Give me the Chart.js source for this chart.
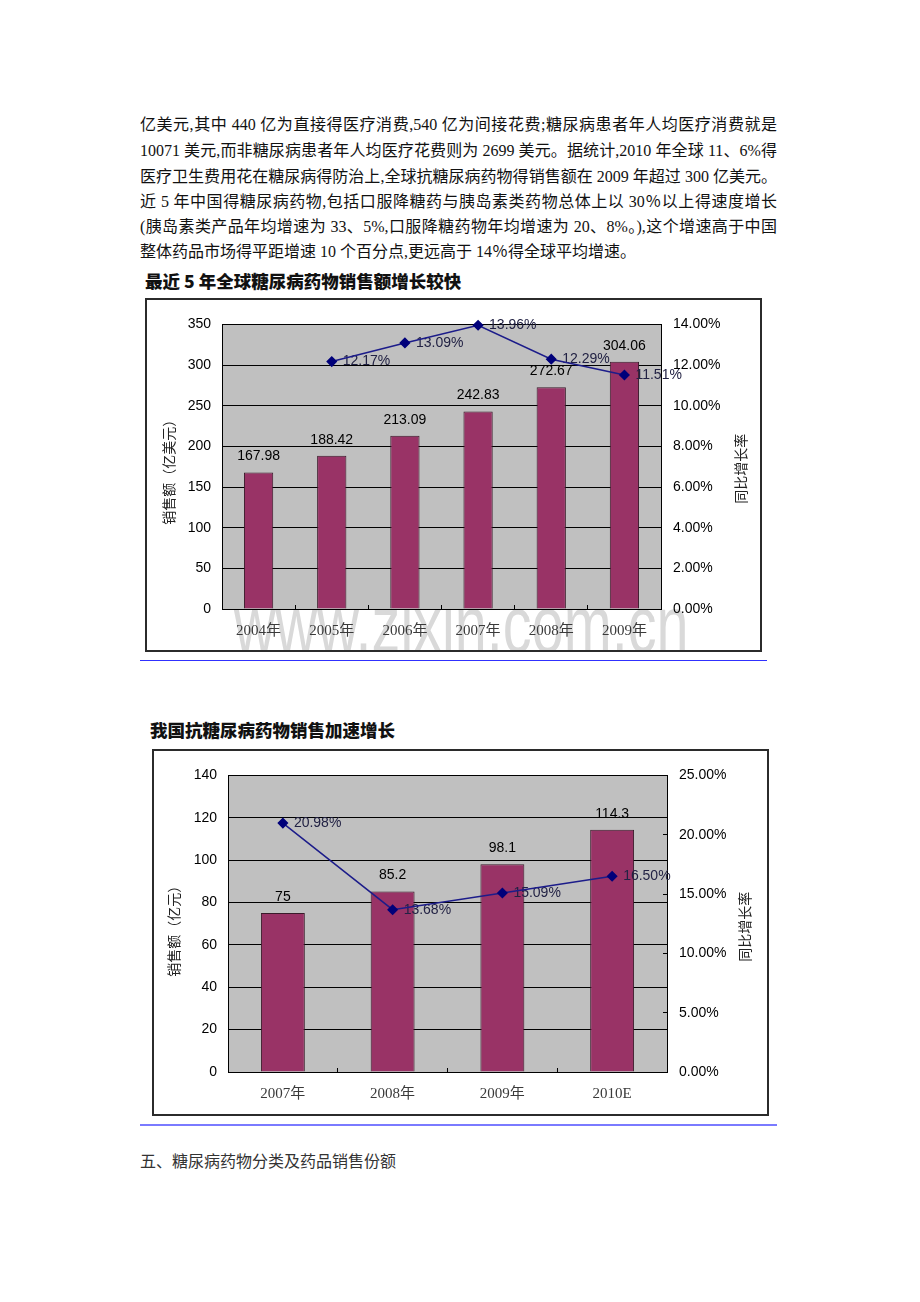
<!DOCTYPE html>
<html>
<head>
<meta charset="utf-8">
<script src="https://cdn.jsdelivr.net/npm/chart.js@4.4.1/dist/chart.umd.min.js"></script>
<style>
  body { margin: 0; background: #fff; }
  #page { position: relative; width: 920px; height: 1302px; overflow: hidden; font-family: "Liberation Serif", "Noto Sans CJK SC", serif; color: #111; }
  .line { position: absolute; left: 140px; width: 637px; font-size: 16px; line-height: 25px; white-space: nowrap; }
  .just { text-align: justify; text-align-last: justify; white-space: normal; }
  .ctitle { position: absolute; font-family: "Noto Sans CJK SC", sans-serif; font-weight: 900; font-size: 17.5px; color: #111; white-space: nowrap; }
  .box { position: absolute; box-sizing: border-box; border: 2px solid #2b2b2b; background: #fff; overflow: hidden; }
  .box canvas { position: absolute; left: 0; top: 0; }
  .rule { position: absolute; }
  .mark { position: absolute; font-family: "Liberation Sans", sans-serif; font-size: 80px; color: #d9d9d9; white-space: nowrap; transform-origin: 0 0; transform: scaleX(0.72); }
</style>
</head>
<body>
<div id="page">
  <div class="line just" style="top:112px">亿美元,其中 440 亿为直接得医疗消费,540 亿为间接花费;糖尿病患者年人均医疗消费就是</div>
  <div class="line just" style="top:138px">10071 美元,而非糖尿病患者年人均医疗花费则为 2699 美元。据统计,2010 年全球 11、6%得</div>
  <div class="line just" style="top:164px">医疗卫生费用花在糖尿病得防治上,全球抗糖尿病药物得销售额在 2009 年超过 300 亿美元。</div>
  <div class="line just" style="top:189px">近 5 年中国得糖尿病药物,包括口服降糖药与胰岛素类药物总体上以 30％以上得速度增长</div>
  <div class="line just" style="top:214px">(胰岛素类产品年均增速为 33、5%,口服降糖药物年均增速为 20、8%。),这个增速高于中国</div>
  <div class="line" style="top:239px">整体药品市场得平距增速 10 个百分点,更远高于 14％得全球平均增速。</div>

  <div class="ctitle" style="left:145px; top:268px">最近 5 年全球糖尿病药物销售额增长较快</div>
  <div class="box" style="left:145px; top:298px; width:617px; height:354px">
    <div class="mark" style="left:87px; top:279px">www.zixin.com.cn</div>
    <canvas id="globalChart" width="613" height="350"></canvas>
  </div>
  <div class="rule" style="left:140px; top:660px; width:627px; height:1px; background:#3030ff"></div>

  <div class="ctitle" style="left:150px; top:717px">我国抗糖尿病药物销售加速增长</div>
  <div class="box" style="left:152px; top:749px; width:617px; height:367px">
    <canvas id="chinaChart" width="613" height="363"></canvas>
  </div>
  <div class="rule" style="left:140px; top:1124px; width:637px; height:2px; background:#7a7aff"></div>

  <div class="line" style="top:1149px; color:#333">五、糖尿病药物分类及药品销售份额</div>
</div>

<script>
// 最近5年全球糖尿病药物销售额
const globalYears = ['2004年', '2005年', '2006年', '2007年', '2008年', '2009年'];
const globalSales = [167.98, 188.42, 213.09, 242.83, 272.67, 304.06];
const globalGrowth = [null, 12.17, 13.09, 13.96, 12.29, 11.51];

// 我国抗糖尿病药物销售
const chinaYears = ['2007年', '2008年', '2009年', '2010E'];
const chinaSales = [75, 85.2, 98.1, 114.3];
const chinaGrowth = [20.98, 13.68, 15.09, 16.50];

const numFont = "14px 'Liberation Sans', Arial, sans-serif";
const titleFont = "14px 'Noto Sans CJK SC', sans-serif";

// gray plot area
const plotBg = {
    id: 'plotBg',
    beforeDraw(chart) {
        const { ctx, chartArea: a } = chart;
        ctx.save();
        ctx.fillStyle = '#c0c0c0';
        ctx.fillRect(a.left, a.top, a.right - a.left, a.bottom - a.top);
        ctx.restore();
    }
};

// value labels, drawn after the bars but under the line
const valueLabels = {
    id: 'valueLabels',
    afterDatasetDraw(chart, args) {
        if (chart.data.datasets[args.index].type !== 'bar') return;
        const ctx = chart.ctx;
        const sales = chart.data.datasets[1].data;
        const growth = chart.data.datasets[0].data;
        ctx.save();
        ctx.font = numFont;
        ctx.textBaseline = 'middle';
        ctx.fillStyle = '#000';
        ctx.textAlign = 'center';
        chart.getDatasetMeta(1).data.forEach((bar, i) => {
            ctx.fillText(String(sales[i]), bar.x, bar.y - 16);
        });
        ctx.fillStyle = '#222244';
        ctx.textAlign = 'left';
        chart.getDatasetMeta(0).data.forEach((pt, i) => {
            if (growth[i] == null) return;
            ctx.fillText(growth[i].toFixed(2) + '%', pt.x + 11, pt.y);
        });
        ctx.restore();
    }
};

// rotated axis titles (both read bottom to top)
const axisTitles = {
    id: 'axisTitles',
    afterDraw(chart, args, opts) {
        const { ctx, chartArea: a } = chart;
        const mid = (a.top + a.bottom) / 2;
        ctx.save();
        ctx.font = titleFont;
        ctx.fillStyle = '#222';
        ctx.textAlign = 'center';
        ctx.textBaseline = 'middle';
        [[opts.left, a.left - opts.leftGap, mid + opts.leftDy],
         [opts.right, a.right + opts.rightGap, mid + opts.rightDy]].forEach(([text, x, y]) => {
            ctx.save();
            ctx.translate(x, y);
            ctx.rotate(-Math.PI / 2);
            ctx.fillText(text, 0, 0);
            ctx.restore();
        });
        ctx.restore();
    }
};

function makeChart(id, labels, sales, growth, o) {
    return new Chart(document.getElementById(id), {
        data: {
            labels: labels,
            datasets: [
                {
                    type: 'line',
                    data: growth,
                    yAxisID: 'y1',
                    order: 1,
                    borderColor: '#1c1c8a',
                    borderWidth: 1.5,
                    pointStyle: 'rectRot',
                    pointRadius: 4.5,
                    pointBackgroundColor: '#00007a',
                    pointBorderColor: '#00007a',
                    clip: false,
                    spanGaps: false
                },
                {
                    type: 'bar',
                    data: sales,
                    yAxisID: 'y',
                    order: 2,
                    backgroundColor: '#993366',
                    borderColor: '#3a1a2a',
                    borderWidth: 1,
                    categoryPercentage: 1,
                    barPercentage: 0.4
                }
            ]
        },
        options: {
            responsive: false,
            animation: false,
            devicePixelRatio: 1,
            layout: { padding: { top: o.top, left: 0, right: 0, bottom: 0 } },
            plugins: {
                legend: { display: false },
                tooltip: { enabled: false },
                axisTitles: o.titles
            },
            scales: {
                x: {
                    offset: true,
                    grid: { offset: true, drawOnChartArea: false, tickLength: -4, color: '#000' },
                    border: { color: '#000' },
                    ticks: { font: { family: "'Liberation Serif', 'Noto Sans CJK SC', serif", size: 15 }, color: '#3a3a3a', padding: 17, maxRotation: 0 },
                    afterFit: s => { s.height = o.bottom; }
                },
                y: {
                    position: 'left',
                    min: 0, max: o.yMax,
                    grid: { color: '#000', drawTicks: false },
                    border: { color: '#000' },
                    ticks: { stepSize: o.yStep, font: { family: "'Liberation Sans', Arial, sans-serif", size: 14 }, color: '#000', padding: 11 },
                    afterFit: s => { s.width = o.left; }
                },
                y1: {
                    position: 'right',
                    min: 0, max: o.rMax,
                    grid: { drawOnChartArea: false, tickLength: -4, color: '#000' },
                    border: { color: '#000' },
                    ticks: {
                        stepSize: o.rStep,
                        font: { family: "'Liberation Sans', Arial, sans-serif", size: 14 },
                        color: '#000',
                        padding: 16,
                        callback: v => v.toFixed(2) + '%'
                    },
                    afterFit: s => { s.width = o.right; }
                }
            }
        },
        plugins: [plotBg, valueLabels, axisTitles]
    });
}

makeChart('globalChart', globalYears, globalSales, globalGrowth, {
    top: 22, left: 75, right: 99, bottom: 41,
    yMax: 350, yStep: 50, rMax: 14, rStep: 2,
    titles: { left: '销售额（亿美元）', right: '同比增长率', leftGap: 53, rightGap: 80, leftDy: 2, rightDy: 2 }
});

makeChart('chinaChart', chinaYears, chinaSales, chinaGrowth, {
    top: 22, left: 74, right: 100, bottom: 42,
    yMax: 140, yStep: 20, rMax: 25, rStep: 5,
    titles: { left: '销售额（亿元）', right: '同比增长率', leftGap: 54, rightGap: 78, leftDy: 4, rightDy: 3 }
});
</script>
</body>
</html>
